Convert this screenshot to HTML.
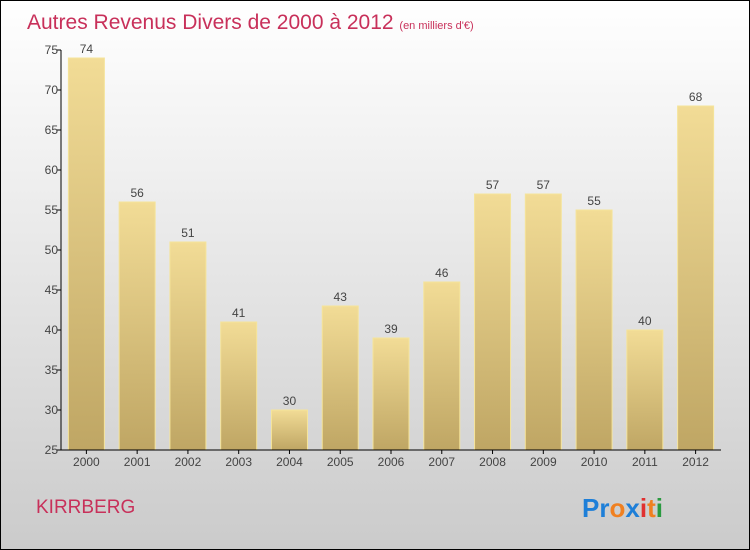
<!DOCTYPE html>
<html><head><meta charset="utf-8"><style>
body{margin:0}
#c{position:relative;width:748px;height:548px;border:1px solid #000;background:linear-gradient(#ffffff,#f0f0f0 30%,#cbcbcb);font-family:"Liberation Sans",sans-serif;overflow:hidden}
</style></head><body>
<div id="c">
<svg width="748" height="548" viewBox="1 1 748 548" style="position:absolute;left:0;top:0">
<defs>
<linearGradient id="bg" x1="0" y1="0" x2="0" y2="1"><stop offset="0" stop-color="#f2dc96"/><stop offset="1" stop-color="#bfa664"/></linearGradient>
</defs>
<text x="27" y="29" font-size="21" fill="#c8305a">Autres Revenus Divers de 2000 à 2012 <tspan font-size="11">(en milliers d'€)</tspan></text>
<g id="plot"></g>
<text x="36" y="513" font-size="19" fill="#c8305a">KIRRBERG</text>
<g font-size="26" font-weight="bold" font-family="'Liberation Sans',sans-serif">
<text x="582" y="517"><tspan fill="#1e7fd8">Pr</tspan><tspan fill="#f08020">o</tspan><tspan fill="#1e7fd8">x</tspan><tspan fill="#e03030">i</tspan><tspan fill="#f08020">t</tspan><tspan fill="#2a9a40">i</tspan></text>
</g>
</svg>
</div>
<script>
const years=["2000","2001","2002","2003","2004","2005","2006","2007","2008","2009","2010","2011","2012"];
const values=[74,56,51,41,30,43,39,46,57,57,55,40,68];
const yTicks=[25,30,35,40,45,50,55,60,65,70,75];
const NS="http://www.w3.org/2000/svg";
const g=document.getElementById('plot');
const x0=61,x1=721,yTop=50,yBot=450,vMin=25,vMax=75;
const y=v=>yBot-(v-vMin)/(vMax-vMin)*(yBot-yTop);
const bw=(x1-x0)/years.length;
const xc=i=>x0+bw*(i+0.5);
function el(t,a,txt){const e=document.createElementNS(NS,t);for(const k in a)e.setAttribute(k,a[k]);if(txt!=null)e.textContent=txt;g.appendChild(e);return e;}
values.forEach((v,i)=>{
 const r=el('rect',{x:xc(i)-18,y:y(v),width:36,height:yBot-y(v),fill:'url(#bg)',stroke:'#f5e49a','stroke-width':1});
 
 
 const t=el('text',{x:xc(i),y:y(v)-5,'font-size':12,fill:'#444','text-anchor':'middle'},String(v));
 
 
 const xl=el('text',{x:xc(i),y:yBot+16,'font-size':12,fill:'#444','text-anchor':'middle'},years[i]);
 
 
 el('line',{x1:xc(i),x2:xc(i),y1:yBot,y2:yBot+4,stroke:'#000'});
});
yTicks.forEach(v=>{
 el('line',{x1:x0-4,x2:x0,y1:y(v),y2:y(v),stroke:'#000'});
 const t=el('text',{x:x0-3,y:y(v)+4,'font-size':12,fill:'#444','text-anchor':'end'},String(v));
 
 
});
const ya=el('line',{x1:x0,x2:x0,y1:yTop,y2:yBot,stroke:'#000'});


const xa=el('line',{x1:x0,x2:x1,y1:yBot,y2:yBot,stroke:'#000'});


</script>
</body></html>
